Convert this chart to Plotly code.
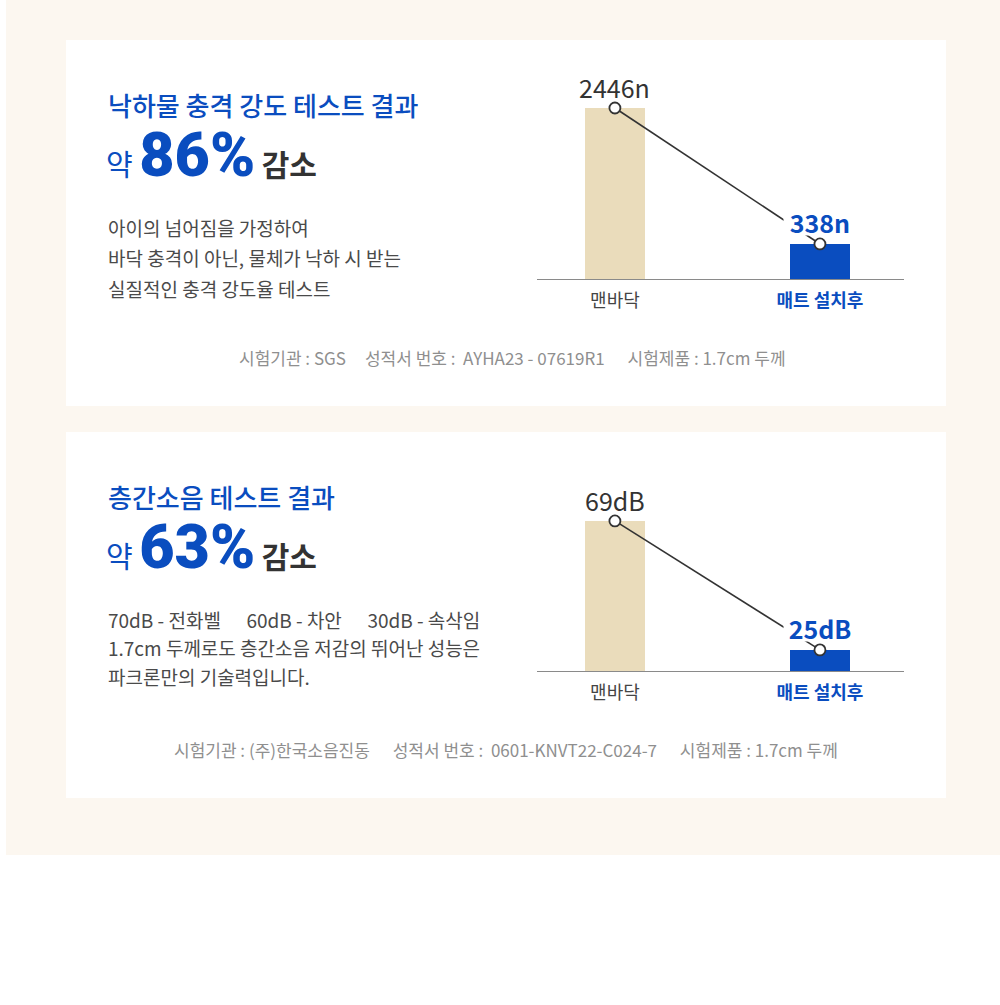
import plotly.graph_objects as go

# ---------------- data ----------------
categories = ["맨바닥", "매트 설치후"]
impact_values = [2446, 338]
impact_labels = ["2446n", "338n"]
noise_values = [69, 25]
noise_labels = ["69dB", "25dB"]
tick_labels = ["맨바닥", "매트 설치후"]

title1 = "낙하물 충격 강도 테스트 결과"
pct1 = "86%"
desc1 = ["아이의 넘어짐을 가정하여",
         "바닥 충격이 아닌, 물체가 낙하 시 받는",
         "실질적인 충격 강도율 테스트"]
foot1 = "시험기관 : SGS\u00a0\u00a0\u00a0\u00a0\u00a0성적서 번호 :\u00a0\u00a0AYHA23 - 07619R1\u00a0\u00a0\u00a0\u00a0\u00a0\u00a0시험제품 : 1.7cm 두께"

title2 = "층간소음 테스트 결과"
pct2 = "63%"
desc2 = ["70dB - 전화벨\u00a0\u00a0\u00a0\u00a0\u00a0\u00a060dB - 차안\u00a0\u00a0\u00a0\u00a0\u00a0\u00a030dB - 속삭임",
         "1.7cm 두께로도 층간소음 저감의 뛰어난 성능은",
         "파크론만의 기술력입니다."]
foot2 = "시험기관 : (주)한국소음진동\u00a0\u00a0\u00a0\u00a0\u00a0\u00a0성적서 번호 :\u00a0\u00a00601-KNVT22-C024-7\u00a0\u00a0\u00a0\u00a0\u00a0\u00a0시험제품 : 1.7cm 두께"

# ---------------- styles ----------------
W, H = 1000, 1005
FONT = "Noto Sans CJK KR"
NUMFONT = "Roboto"
BLUE = "#0a4dbf"
BEIGE = "#eadcbb"
CREAM = "#fcf7f0"
DARK = "#333333"
BODY = "#4a4a4a"
GRAY = "#8f8f8f"

def px(x):
    return x / W

def py(y):
    return 1 - y / H

# axis floors (the original graphic is drawn on truncated / offset scales)
FLOOR1, TOP1 = -205, 3035
FLOOR2, TOP2 = 17.8, 89.1
OFF = 392  # vertical offset of the second card

fig = go.Figure()

# backgrounds
shapes = [
    dict(type="rect", xref="paper", yref="paper", x0=px(6), x1=1, y0=py(855), y1=1,
         fillcolor=CREAM, line_width=0, layer="below"),
    dict(type="rect", xref="paper", yref="paper", x0=px(66), x1=px(946), y0=py(406), y1=py(40),
         fillcolor="white", line_width=0, layer="below"),
    dict(type="rect", xref="paper", yref="paper", x0=px(66), x1=px(946), y0=py(798), y1=py(432),
         fillcolor="white", line_width=0, layer="below"),
]

bar_colors = [BEIGE, BLUE]

for vals, floor, xa, ya in [(impact_values, FLOOR1, "x", "y"),
                            (noise_values, FLOOR2, "x2", "y2")]:
    fig.add_trace(go.Bar(
        x=categories, y=[v - floor for v in vals], base=floor,
        marker=dict(color=bar_colors, line_width=0), width=0.293,
        xaxis=xa, yaxis=ya, hoverinfo="skip", showlegend=False))
    fig.add_trace(go.Scatter(
        x=categories, y=vals, mode="lines+markers",
        line=dict(color=DARK, width=1.6),
        marker=dict(size=11, color="white", line=dict(color=DARK, width=1.8)),
        xaxis=xa, yaxis=ya, cliponaxis=False, hoverinfo="skip", showlegend=False))

annotations = []
# value labels
for vals, labels, xa, ya in [(impact_values, impact_labels, "x", "y"),
                             (noise_values, noise_labels, "x2", "y2")]:
    for j, (c, v, t) in enumerate(zip(categories, vals, labels)):
        if j == 0:
            annotations.append(dict(x=c, y=v, xref=xa, yref=ya, text=t, showarrow=False,
                                    yshift=21, yanchor="middle",
                                    font=dict(family=FONT, size=25, color=DARK)))
        else:
            annotations.append(dict(x=c, y=v, xref=xa, yref=ya, text="<b>" + t + "</b>",
                                    showarrow=False, yshift=22, yanchor="middle",
                                    bgcolor="white", borderpad=0, height=26, width=72,
                                    font=dict(family=FONT, size=25, color=BLUE)))

# left texts
for k, (title, pct, desc, foot, fx) in enumerate([
        (title1, pct1, desc1, foot1, 512),
        (title2, pct2, desc2, foot2, 506)]):
    dy = OFF * k
    annotations.append(dict(x=px(106), y=py(104 + dy), xref="paper", yref="paper",
                            xanchor="left", yanchor="middle", showarrow=False, text=title,
                            font=dict(family=FONT, size=26, color=BLUE, weight=500)))
    big = ("<span style='font-size:29px'>약</span> "
           "<span style='font-family:" + NUMFONT + ";font-size:61px;font-weight:900'>" + pct + "</span> "
           "<span style='font-size:30px;font-weight:700;color:" + DARK + "'>감소</span>")
    annotations.append(dict(x=px(104), y=py(155 + dy), xref="paper", yref="paper",
                            xanchor="left", yanchor="middle", showarrow=False, text=big,
                            font=dict(family=FONT, size=29, color=BLUE)))
    for m, line in enumerate(desc):
        annotations.append(dict(x=px(106), y=py(227 + 30.5 * m + dy - (2 * m if k else 0)),
                                xref="paper", yref="paper",
                                xanchor="left", yanchor="middle", showarrow=False, text=line,
                                font=dict(family=FONT, size=19, color=BODY)))
    annotations.append(dict(x=px(fx), y=py(357 + dy), xref="paper", yref="paper",
                            xanchor="center", yanchor="middle", showarrow=False, text=foot,
                            font=dict(family=FONT, size=17, color=GRAY)))

tick_text = [tick_labels[0], "<b><span style='color:" + BLUE + "'>" + tick_labels[1] + "</span></b>"]

xaxis_common = dict(range=[-0.38, 1.41], showgrid=False, zeroline=False, showline=True,
                    linecolor="#8a8a8a", linewidth=1, ticks="", tickmode="array",
                    tickvals=categories, ticktext=tick_text, ticklabelstandoff=5,
                    tickfont=dict(family=FONT, size=18, color="#444444"), fixedrange=True)
yaxis_common = dict(showgrid=False, zeroline=False, showline=False, showticklabels=False,
                    ticks="", fixedrange=True)

fig.update_layout(
    width=W, height=H, margin=dict(l=0, r=0, t=0, b=0),
    paper_bgcolor="white", plot_bgcolor="rgba(0,0,0,0)",
    bargap=0, shapes=shapes, annotations=annotations,
    xaxis=dict(domain=[px(537), px(904)], anchor="y", **xaxis_common),
    yaxis=dict(domain=[py(279), py(70)], range=[FLOOR1, TOP1], anchor="x", **yaxis_common),
    xaxis2=dict(domain=[px(537), px(904)], anchor="y2", **xaxis_common),
    yaxis2=dict(domain=[py(671), py(462)], range=[FLOOR2, TOP2], anchor="x2", **yaxis_common),
    font=dict(family=FONT),
)

fig.write_html("out.html", config={"displayModeBar": False},
               post_script="document.body.style.margin='0';")
